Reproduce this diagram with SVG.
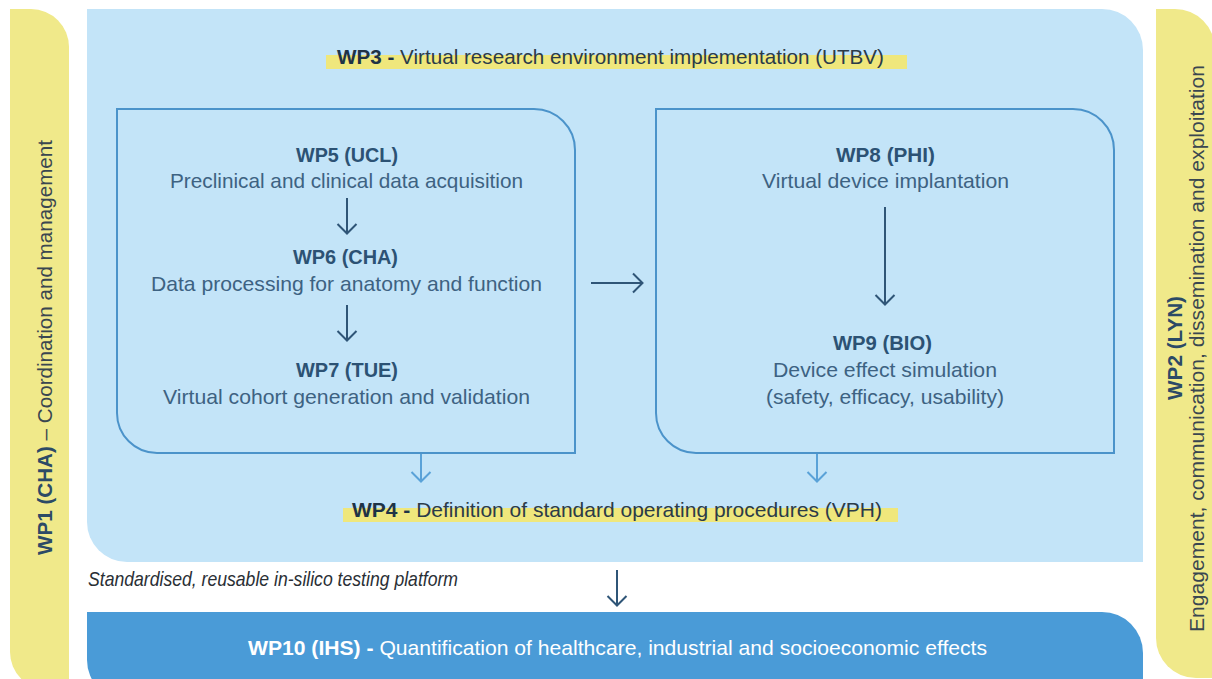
<svg xmlns="http://www.w3.org/2000/svg" width="1212" height="679" viewBox="0 0 1212 679">
  <defs>
    <style>
      .t { font-family: "Liberation Sans", Arial, sans-serif; font-size: 21px; }
      .b { font-weight: bold; }
      .head { fill: #1e3346; }
      .headR { fill: #2b3b49; }
      .boxB { fill: #2c5274; font-weight: bold; }
      .boxT { fill: #3d6282; }
      .frame { fill: none; stroke: #4b93ca; stroke-width: 2; }
      .hl { fill: #efe77c; }
      .side { fill: #f0e98a; }
      .arrow { fill: none; stroke: #2f5577; stroke-width: 2; }
      .arrowL { fill: none; stroke: #5aa2d8; stroke-width: 2; }
    </style>
    <marker id="chev" viewBox="0 0 12 22" markerWidth="12" markerHeight="22" refX="11" refY="11" orient="auto" markerUnits="userSpaceOnUse">
      <path d="M1,1.5 L10.5,11 L1,20.5" fill="none" stroke="#2f5577" stroke-width="2"/>
    </marker>
    <marker id="chevL" viewBox="0 0 12 22" markerWidth="12" markerHeight="22" refX="11" refY="11" orient="auto" markerUnits="userSpaceOnUse">
      <path d="M1,1.5 L10.5,11 L1,20.5" fill="none" stroke="#5aa2d8" stroke-width="2"/>
    </marker>
  </defs>

  <rect width="1212" height="679" fill="#ffffff"/>

  <!-- WP1 side band -->
  <g id="wp1">
    <path class="side" d="M10,9 H31 A38,38 0 0 1 69,47 V690 H48 A38,38 0 0 1 10,652 Z"/>
    <text class="t" transform="translate(52,347.5) rotate(-90)" text-anchor="middle" textLength="415" lengthAdjust="spacingAndGlyphs"><tspan class="b" fill="#2c4a66">WP1 (CHA)</tspan><tspan fill="#3a4650"> – Coordination and management</tspan></text>
  </g>

  <!-- WP2 side band -->
  <g id="wp2">
    <path class="side" d="M1156,9 H1175 A40,40 0 0 1 1215,49 V678 H1196 A40,40 0 0 1 1156,638 Z"/>
    <text class="t b" transform="translate(1182,348) rotate(-90)" text-anchor="middle" textLength="104" lengthAdjust="spacingAndGlyphs" fill="#2c4a66">WP2 (LYN)</text>
    <text class="t" transform="translate(1204,348.5) rotate(-90)" text-anchor="middle" textLength="567" lengthAdjust="spacingAndGlyphs" fill="#3a4650">Engagement, communication, dissemination and exploitation</text>
  </g>

  <!-- WP3 panel -->
  <g id="wp3">
    <path d="M87,9 H1102 A41,41 0 0 1 1143,50 V562 H127 A40,40 0 0 1 87,522 Z" fill="#c3e4f8"/>
    <rect class="hl" x="326" y="55" width="581" height="14"/>
    <text class="t" x="610.5" y="64" text-anchor="middle" textLength="547" lengthAdjust="spacingAndGlyphs"><tspan class="b head">WP3 -</tspan><tspan class="headR"> Virtual research environment implementation (UTBV)</tspan></text>
  </g>

  <!-- data pipeline: WP5-WP7 -->
  <g id="wp5-7">
    <path class="frame" d="M117,109 H534 A41,41 0 0 1 575,150 V453 H157 A40,40 0 0 1 117,413 Z"/>
  </g>
  <g id="wp5">
    <text class="t boxB" x="347" y="162" text-anchor="middle" textLength="102" lengthAdjust="spacingAndGlyphs">WP5 (UCL)</text>
    <text class="t boxT" x="346.5" y="188" text-anchor="middle" textLength="353" lengthAdjust="spacingAndGlyphs">Preclinical and clinical data acquisition</text>
  </g>
  <g id="wp6">
    <text class="t boxB" x="345.5" y="264" text-anchor="middle" textLength="105" lengthAdjust="spacingAndGlyphs">WP6 (CHA)</text>
    <text class="t boxT" x="346.5" y="291" text-anchor="middle" textLength="391" lengthAdjust="spacingAndGlyphs">Data processing for anatomy and function</text>
  </g>
  <g id="wp7">
    <text class="t boxB" x="347" y="377" text-anchor="middle" textLength="102" lengthAdjust="spacingAndGlyphs">WP7 (TUE)</text>
    <text class="t boxT" x="346.5" y="404" text-anchor="middle" textLength="367" lengthAdjust="spacingAndGlyphs">Virtual cohort generation and validation</text>
  </g>

  <!-- device pipeline: WP8-WP9 -->
  <g id="wp8-9">
    <path class="frame" d="M656,109 H1073 A41,41 0 0 1 1114,150 V453 H696 A40,40 0 0 1 656,413 Z"/>
  </g>
  <g id="wp8">
    <text class="t boxB" x="885.5" y="162" text-anchor="middle" textLength="99" lengthAdjust="spacingAndGlyphs">WP8 (PHI)</text>
    <text class="t boxT" x="885.5" y="188" text-anchor="middle" textLength="247" lengthAdjust="spacingAndGlyphs">Virtual device implantation</text>
  </g>
  <g id="wp9">
    <text class="t boxB" x="882.5" y="350" text-anchor="middle" textLength="99" lengthAdjust="spacingAndGlyphs">WP9 (BIO)</text>
    <text class="t boxT" x="885" y="377" text-anchor="middle" textLength="224" lengthAdjust="spacingAndGlyphs">Device effect simulation</text>
    <text class="t boxT" x="885" y="404" text-anchor="middle" textLength="238" lengthAdjust="spacingAndGlyphs">(safety, efficacy, usability)</text>
  </g>

  <!-- WP4 -->
  <g id="wp4">
    <rect class="hl" x="343" y="508" width="555" height="14"/>
    <text class="t" x="617" y="517" text-anchor="middle" textLength="530" lengthAdjust="spacingAndGlyphs"><tspan class="b head">WP4 -</tspan><tspan class="headR"> Definition of standard operating procedures (VPH)</tspan></text>
  </g>

  <!-- platform note -->
  <g id="platform">
    <text class="t" x="88" y="586" font-size="17" font-style="italic" fill="#2a2f35" textLength="370" lengthAdjust="spacingAndGlyphs">Standardised, reusable in-silico testing platform</text>
  </g>

  <!-- WP10 -->
  <g id="wp10">
    <path d="M87,612 H1102 A41,41 0 0 1 1143,653 V700 H127 A40,40 0 0 1 87,660 Z" fill="#4a9bd7"/>
    <text class="t" x="617.5" y="655" text-anchor="middle" fill="#ffffff" textLength="739" lengthAdjust="spacingAndGlyphs"><tspan class="b">WP10 (IHS) -</tspan><tspan> Quantification of healthcare, industrial and socioeconomic effects</tspan></text>
  </g>

  <!-- connectors -->
  <g id="connectors">
    <path class="arrow" d="M347,198 V234" marker-end="url(#chev)"/>
    <path class="arrow" d="M347,305 V341" marker-end="url(#chev)"/>
    <path class="arrow" d="M591,283 H643" marker-end="url(#chev)"/>
    <path class="arrow" d="M885,207 V305" marker-end="url(#chev)"/>
    <path class="arrowL" d="M421,454 V482" marker-end="url(#chevL)"/>
    <path class="arrowL" d="M817,454 V482" marker-end="url(#chevL)"/>
    <path class="arrow" d="M617,570 V606" marker-end="url(#chev)"/>
  </g>
</svg>
